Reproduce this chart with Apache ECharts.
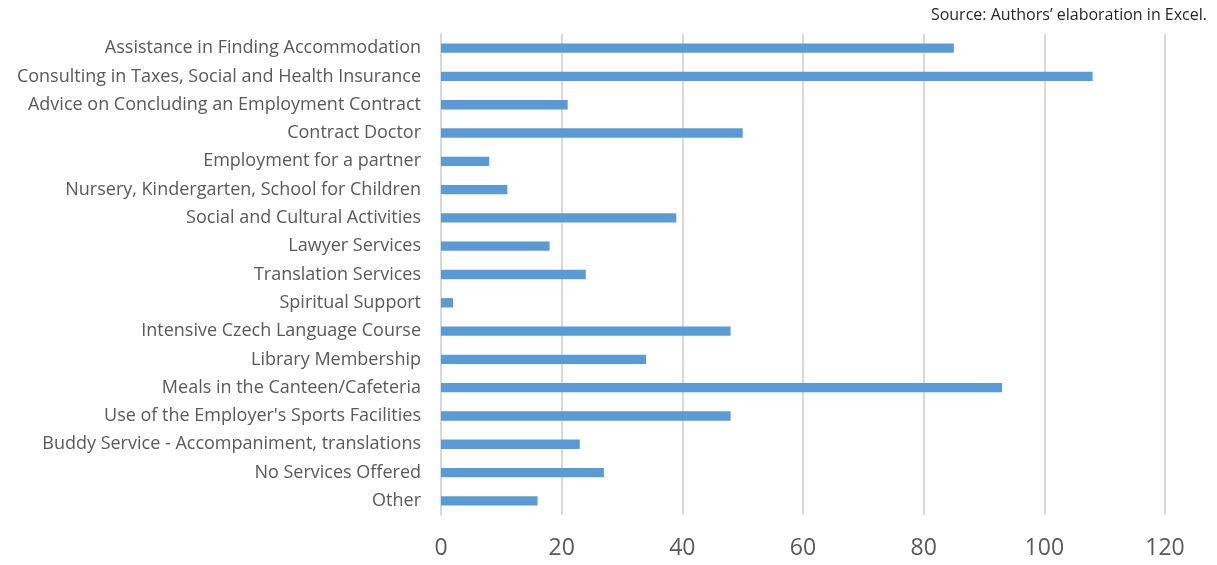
<!DOCTYPE html>
<html><head><meta charset="utf-8">
<script src="https://cdn.jsdelivr.net/npm/echarts@6/dist/echarts.min.js"></script>
<style>html,body{margin:0;padding:0;background:#fff}#c{width:1217px;height:565px}</style>
</head><body><div id="c"></div>
<script>
const categories = [
  "Assistance in Finding Accommodation",
  "Consulting in Taxes, Social and Health Insurance",
  "Advice on Concluding an Employment Contract",
  "Contract Doctor",
  "Employment for a partner",
  "Nursery, Kindergarten, School for Children",
  "Social and Cultural Activities",
  "Lawyer Services",
  "Translation Services",
  "Spiritual Support",
  "Intensive Czech Language Course",
  "Library Membership",
  "Meals in the Canteen/Cafeteria",
  "Use of the Employer's Sports Facilities",
  "Buddy Service - Accompaniment, translations",
  "No Services Offered",
  "Other"
];
const values = [85, 108, 21, 50, 8, 11, 39, 18, 24, 2, 48, 34, 93, 48, 23, 27, 16];
const sourceText = "Source: Authors\u2019 elaboration in Excel.";

const chart = echarts.init(document.getElementById('c'));
chart.setOption({
  animation: false,
  textStyle: { fontFamily: "Open Sans" },
  graphic: [{
    type: 'text', right: 10, top: 7,
    style: { text: sourceText, fill: '#262626', font: '16px "Open Sans"', textAlign: 'right' }
  }],
  grid: { left: 441, right: 52, top: 34, bottom: 50 },
  xAxis: {
    type: 'value', min: 0, max: 120, interval: 20,
    axisLine: { show: false }, axisTick: { show: false },
    axisLabel: { color: '#595959', fontSize: 23, margin: 22 },
    splitLine: { show: true, lineStyle: { color: '#d9d9d9', width: 2 } }
  },
  yAxis: {
    type: 'category', data: categories, inverse: true,
    axisLine: { show: true, lineStyle: { color: '#d9d9d9', width: 2 } },
    axisTick: { show: false },
    axisLabel: { color: '#595959', fontSize: 18, margin: 20 }
  },
  series: [{
    type: 'bar', data: values, barWidth: '33%',
    itemStyle: { color: '#5B9BD5' }
  }]
});
</script></body></html>
